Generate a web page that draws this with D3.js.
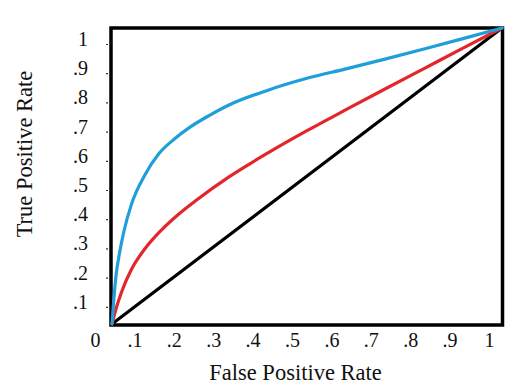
<!DOCTYPE html>
<html><head><meta charset="utf-8">
<script src="https://cdn.jsdelivr.net/npm/d3@7/dist/d3.min.js"></script>
<style>
html,body{margin:0;padding:0;background:#fff;}
svg, svg text{font-family:"Liberation Serif","DejaVu Serif","Times New Roman",serif !important;}
</style></head>
<body>
<svg id="c" width="530" height="388"></svg>
<script>
// ---- data ----
const tickValues = [0,0.1,0.2,0.3,0.4,0.5,0.6,0.7,0.8,0.9,1];
const tickLabels = ["0",".1",".2",".3",".4",".5",".6",".7",".8",".9","1"];
const xTitle = "False Positive Rate";
const yTitle = "True Positive Rate";
const chanceFpr = [0,1];
const chanceTpr = [0,1];
const redFpr = [0,0.01,0.025,0.05,0.085,0.125,0.17,0.217,0.3,0.4,0.5,0.6,0.7,0.8,0.9,1];
const redTpr = [0,0.05,0.11,0.185,0.255,0.315,0.37,0.419,0.497,0.578,0.653,0.724,0.794,0.863,0.932,1];
const blueFpr = [0,0.005,0.01,0.02,0.03,0.05,0.085,0.12,0.16,0.2,0.25,0.3,0.4,0.5,0.6,0.7,0.8,0.9,1];
const blueTpr = [0,0.09,0.16,0.245,0.31,0.405,0.505,0.575,0.625,0.665,0.705,0.74,0.79,0.83,0.862,0.895,0.929,0.964,1];

const FONT = '"Liberation Serif","DejaVu Serif","Times New Roman",serif';
const svg = d3.select("#c");
// plotting scales (frame)
const x = d3.scaleLinear().domain([0,1]).range([112,502]);
const y = d3.scaleLinear().domain([0,1]).range([324,28]);
// label scales (labels sit slightly offset from frame)
const xl = d3.scaleLinear().domain([0,1]).range([95,489]);
const yl = d3.scaleLinear().domain([0,1]).range([336,44]);

// frame
svg.append("rect").attr("x",111).attr("y",28).attr("width",391.5).attr("height",297)
  .attr("fill","none").attr("stroke","#000").attr("stroke-width",3.5);

// y ticks + labels
const yAxis = svg.append("g").attr("transform","translate(108,0)")
  .call(d3.axisLeft(yl).tickValues(tickValues.slice(1)).tickSize(2)
    .tickFormat((d,i)=>tickLabels[i+1]).tickPadding(18));
yAxis.attr("font-family",null);
yAxis.select(".domain").remove();
yAxis.selectAll("line").attr("stroke","#333").attr("stroke-width",1.2);
yAxis.selectAll("text").attr("font-size",20).attr("fill","#111")
  .style("font-family",FONT)
  .attr("dy",null).attr("y",1.5);

// x labels
const xAxis = svg.append("g").attr("transform","translate(0,327)")
  .call(d3.axisBottom(xl).tickValues(tickValues).tickSize(0)
    .tickFormat((d,i)=>tickLabels[i]).tickPadding(0));
xAxis.attr("font-family",null);
xAxis.select(".domain").remove();
xAxis.selectAll("text").attr("font-size",20).attr("fill","#111")
  .style("font-family",FONT)
  .attr("dy",null).attr("y",20);

// titles
svg.append("text").attr("x",295.5).attr("y",380).attr("text-anchor","middle")
  .attr("font-size",22.5).attr("fill","#111").style("font-family",FONT).text(xTitle);
svg.append("text").attr("transform","translate(32,154) rotate(-90)").attr("text-anchor","middle")
  .attr("font-size",22.5).attr("fill","#111").style("font-family",FONT).text(yTitle);

// curves
const line = d3.line().x(d=>x(d[0])).y(d=>y(d[1])).curve(d3.curveMonotoneX);
const series = [
  {f:chanceFpr,t:chanceTpr,c:"#000000"},
  {f:redFpr,t:redTpr,c:"#e2262b"},
  {f:blueFpr,t:blueTpr,c:"#1e9fd9"}
];
series.forEach(s=>{
  svg.append("path").datum(s.f.map((v,i)=>[v,s.t[i]]))
    .attr("d",line).attr("fill","none").attr("stroke",s.c)
    .attr("stroke-width",3.2).attr("stroke-linecap","round").attr("stroke-linejoin","round");
});
</script>
</body></html>
